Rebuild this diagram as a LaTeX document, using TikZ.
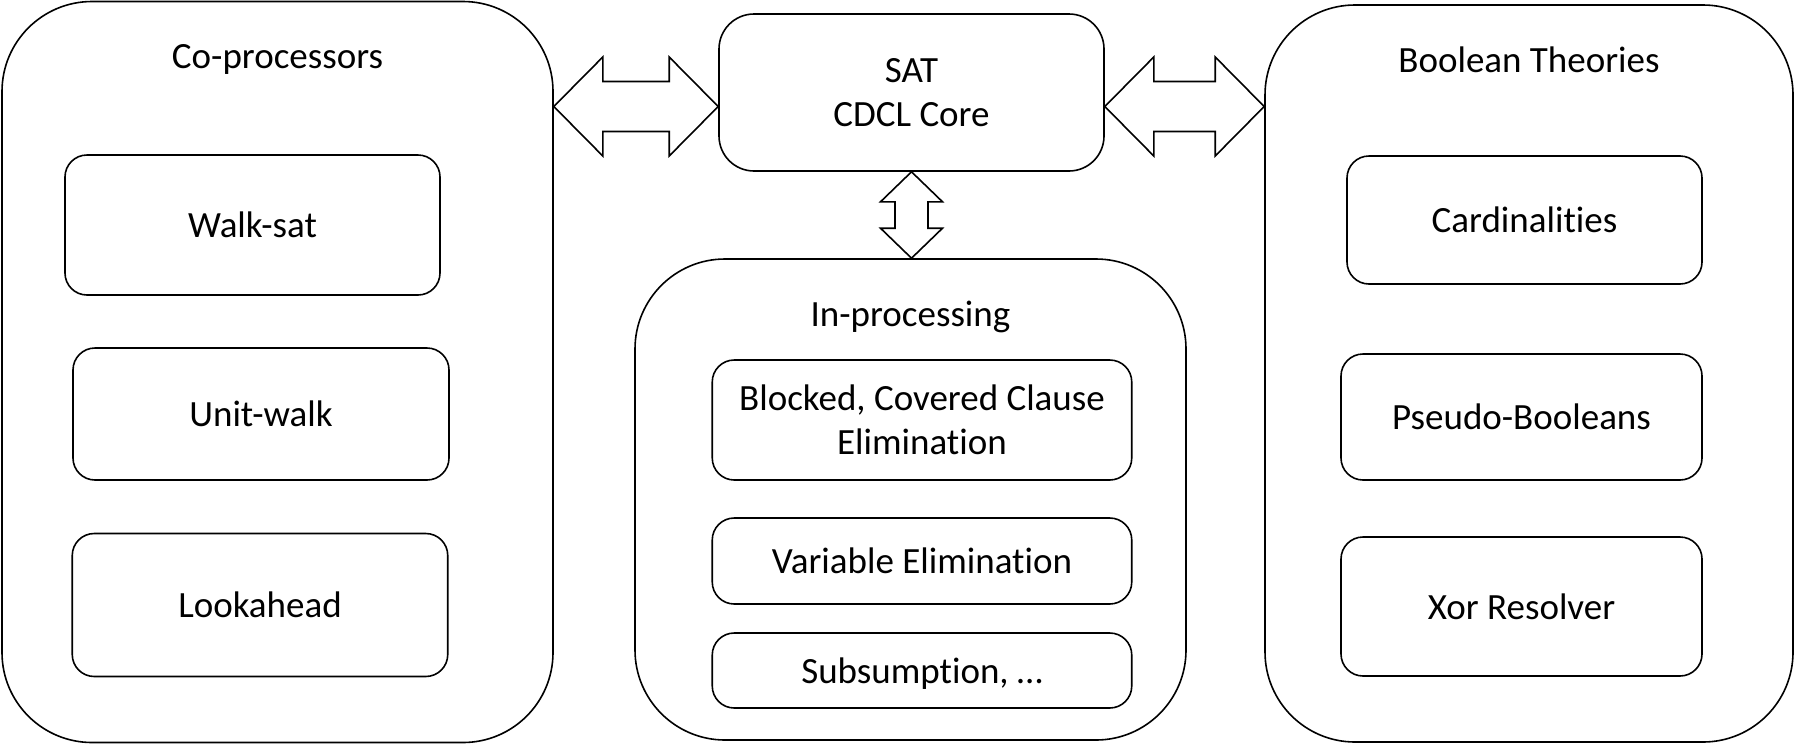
\documentclass[tikz,border=0pt]{standalone}
\usepackage{fontspec}
\setmainfont{Carlito}[Ligatures={NoCommon}]
\usetikzlibrary{calc}
\tikzset{
  bigbox/.style={draw, line width=1.6pt, rounded corners=90pt, inner sep=0pt},
  corebox/.style={draw, line width=1.6pt, rounded corners=35pt, align=center, inner sep=0pt},
  itembox/.style={draw, line width=1.6pt, rounded corners=22pt, inner sep=0pt, text height=25pt, text depth=0pt},
  itemboxtwo/.style={draw, line width=1.6pt, rounded corners=22pt, inner sep=0pt, align=center},
  titletext/.style={anchor=base, inner sep=0pt},
  fatarrow/.style={draw, line width=1.6pt, line join=miter},
}
\newcommand{\harrowshape}[2]{%
  \draw[fatarrow] (#1) -- ($(#1)+(49,-49.5)$) -- ($(#1)+(49,-25)$) -- ($(#2)+(-49,-25)$) -- ($(#2)+(-49,-49.5)$) -- (#2)
    -- ($(#2)+(-49,49.5)$) -- ($(#2)+(-49,25)$) -- ($(#1)+(49,25)$) -- ($(#1)+(49,49.5)$) -- cycle;}
\begin{document}
\begin{tikzpicture}[x=1pt, y=-1pt, every node/.append style={font=\fontsize{37}{44.5}\selectfont}]
\useasboundingbox (0,0) rectangle (1795,745);

% big containers
\node[bigbox, minimum width=551pt, minimum height=741pt] (cop) at (277.5,372) {};
\node[bigbox, minimum width=551pt, minimum height=481pt] (inp) at (910.5,499.5) {};
\node[bigbox, minimum width=528pt, minimum height=737pt] (bt) at (1529,373.5) {};

% titles
\node[titletext] (copt) at ($(cop.north)+(0,68)$) {Co-processors};
\node[titletext] (inpt) at ($(inp.north)+(0,68)$) {In-processing};
\node[titletext] (btt) at ($(bt.north)+(0,68.5)$) {Boolean Theories};

% core
\node[corebox, minimum width=385pt, minimum height=157pt] (sat) at (911.5,92.5) {SAT\\CDCL Core};

% co-processors items
\node[itembox, minimum width=375pt, minimum height=140pt] (ws) at (252.5,225) {Walk-sat};
\node[itembox, minimum width=376pt, minimum height=132pt] (uw) at (261,414) {Unit-walk};
\node[itembox, minimum width=375.5pt, minimum height=143pt] (lk) at (260,605) {Lookahead};

% in-processing items
\node[itemboxtwo, minimum width=419.5pt, minimum height=120pt] (bc) at (922,420) {Blocked, Covered Clause\\Elimination};
\node[itembox, minimum width=419.5pt, minimum height=86pt] (ve) at (922,561) {Variable Elimination};
\node[itembox, minimum width=419.5pt, minimum height=75pt] (su) at (922,670.5) {Subsumption, …};

% boolean theories items
\node[itembox, minimum width=355pt, minimum height=128pt] (ca) at (1524.5,220) {Cardinalities};
\node[itembox, minimum width=361pt, minimum height=126pt] (pb) at (1521.5,417) {Pseudo-Booleans};
\node[itembox, minimum width=361pt, minimum height=139pt] (xr) at (1521.5,606.5) {Xor Resolver};

% connectors (fat double arrows)
\coordinate (arow) at (0,106.5);
\coordinate (la) at (cop.east |- arow);
\coordinate (lb) at (sat.west |- arow);
\coordinate (ra) at (sat.east |- arow);
\coordinate (rb) at (bt.west |- arow);
\harrowshape{la}{lb}
\harrowshape{ra}{rb}

\coordinate (vt) at (sat.south);
\coordinate (vb) at (sat.south |- inp.north);
\draw[fatarrow] (vt) -- ($(vt)+(31,30)$) -- ($(vt)+(16.5,30)$) -- ($(vb)+(16.5,-30)$) -- ($(vb)+(31,-30)$) -- (vb)
  -- ($(vb)+(-31,-30)$) -- ($(vb)+(-16.5,-30)$) -- ($(vt)+(-16.5,30)$) -- ($(vt)+(-31,30)$) -- cycle;
\end{tikzpicture}
\end{document}
